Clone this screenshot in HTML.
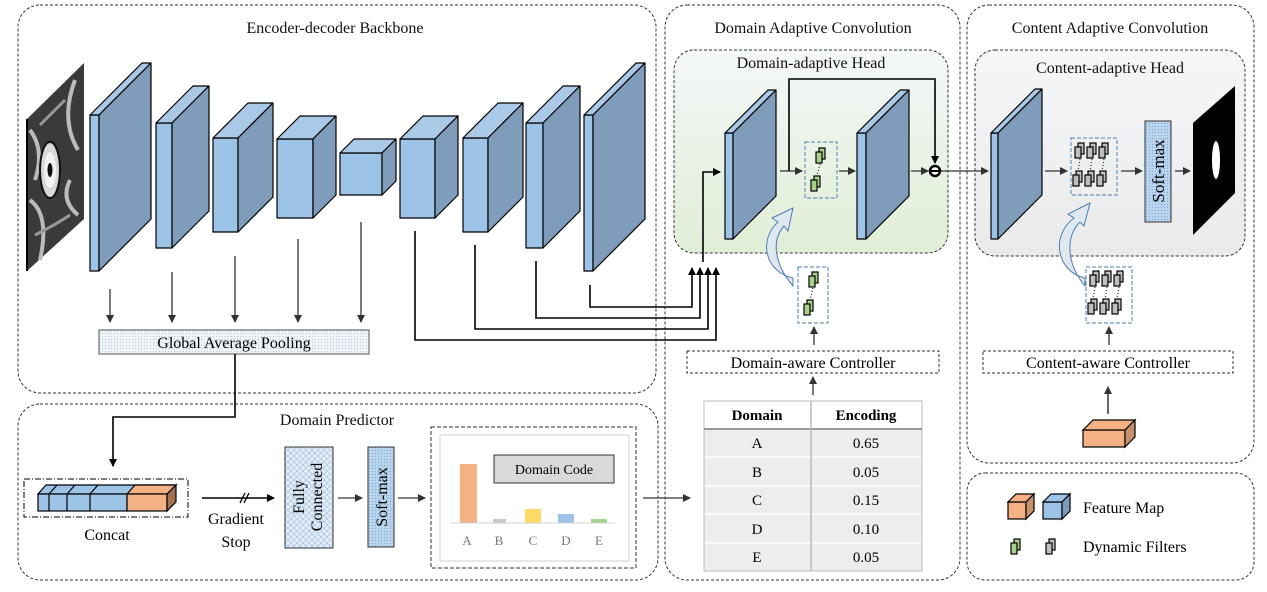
<!DOCTYPE html>
<html><head><meta charset="utf-8"><style>
html,body{margin:0;padding:0;background:#fff;}
svg{display:block;}
svg text{font-family:"Liberation Serif","Times New Roman","DejaVu Serif",serif;}
</style></head><body>
<svg width="1267" height="592" viewBox="0 0 1267 592" xmlns="http://www.w3.org/2000/svg" font-family="'Liberation Serif', 'Times New Roman', serif">
<defs>
<linearGradient id="gG" x1="0" y1="0" x2="0" y2="1"><stop offset="0" stop-color="#f4f7f8"/><stop offset="1" stop-color="#e0eed6"/></linearGradient>
<linearGradient id="gC" x1="0" y1="0" x2="0" y2="1"><stop offset="0" stop-color="#f5f6f8"/><stop offset="1" stop-color="#eaeaea"/></linearGradient>
<pattern id="dots" width="3" height="3" patternUnits="userSpaceOnUse"><rect width="3" height="3" fill="#eef4f8"/><rect width="1" height="1" fill="#b8c8d6"/></pattern>
<pattern id="hatch" width="6" height="6" patternUnits="userSpaceOnUse"><rect width="6" height="6" fill="#e3eef8"/><path d="M0,0L6,6M6,0L0,6" stroke="#a8c4de" stroke-width="0.7"/></pattern>
<pattern id="sdots" width="3" height="3" patternUnits="userSpaceOnUse"><rect width="3" height="3" fill="#b7d3ee"/><rect width="1" height="1" fill="#7fa6cc"/></pattern>
<marker id="ar" markerWidth="8" markerHeight="8" refX="7" refY="4" orient="auto" markerUnits="userSpaceOnUse"><path d="M0,0L8,4L0,8Z" fill="#333"/></marker>
<marker id="ak" markerWidth="8" markerHeight="8" refX="7" refY="4" orient="auto" markerUnits="userSpaceOnUse"><path d="M0,0L8,4L0,8Z" fill="#000"/></marker>
<g id="fg"><rect x="3" y="0" width="6" height="11" fill="#a9d18e" stroke="#000" stroke-width="1.2"/><rect x="0" y="4" width="6" height="11" fill="#a9d18e" stroke="#000" stroke-width="1.2"/></g>
<g id="fy"><rect x="3" y="0" width="6" height="11" fill="#bfbfbf" stroke="#000" stroke-width="1.2"/><rect x="0" y="4" width="6" height="11" fill="#bfbfbf" stroke="#000" stroke-width="1.2"/></g>
</defs>

<!-- panels -->
<g fill="none" stroke="#333" stroke-width="1" stroke-dasharray="3,2">
<rect x="18" y="5" width="638" height="388" rx="22"/>
<rect x="18" y="404" width="640" height="176" rx="22"/>
<rect x="665" y="5" width="295" height="575" rx="22"/>
<rect x="967" y="5" width="287" height="458" rx="22"/>
<rect x="967" y="473" width="287" height="107" rx="18"/>
</g>
<rect x="674" y="50" width="274" height="203" rx="20" fill="url(#gG)" stroke="#333" stroke-dasharray="3,2"/>
<rect x="975" y="50" width="270" height="206" rx="20" fill="url(#gC)" stroke="#333" stroke-dasharray="3,2"/>

<g font-size="16" text-anchor="middle" fill="#111">
<text x="335" y="33">Encoder-decoder Backbone</text>
<text x="813" y="33">Domain Adaptive Convolution</text>
<text x="1110" y="33">Content Adaptive Convolution</text>
<text x="811" y="68">Domain-adaptive Head</text>
<text x="1110" y="73">Content-adaptive Head</text>
<text x="337" y="425">Domain Predictor</text>
</g>

<!-- input image -->
<polygon points="27,119 84,63 84,219 27,271" fill="#3a3a3a"/>
<path d="M30,130 Q45,150 35,180 M75,80 Q60,120 78,150 M30,200 Q50,215 40,260 M70,180 Q60,200 78,215" stroke="#bbb" stroke-width="4" fill="none"/>
<path d="M40,125 Q55,110 65,100 M35,235 Q55,225 70,215" stroke="#999" stroke-width="3" fill="none"/>
<ellipse cx="50" cy="170" rx="10" ry="28" fill="#d8d8d8" stroke="#111" stroke-width="2"/>
<ellipse cx="50" cy="170" rx="6" ry="18" fill="#f2f2f2"/>
<ellipse cx="50" cy="170" rx="2.5" ry="7" fill="#111"/>
<line x1="27" y1="119" x2="27" y2="271" stroke="#000" stroke-width="2"/>

<!-- blocks -->
<g stroke="#000" stroke-width="1.2" stroke-linejoin="round">
<g><rect x="90" y="115" width="9" height="156" fill="#9dc3e6"/><polygon points="90,115 142,63 151,63 99,115" fill="#a9c9e6"/><polygon points="99,115 151,63 151,219 99,271" fill="#7f9dba"/></g>
<g><rect x="156" y="123" width="16" height="125" fill="#9dc3e6"/><polygon points="156,123 193,86 209,86 172,123" fill="#a9c9e6"/><polygon points="172,123 209,86 209,211 172,248" fill="#7f9dba"/></g>
<g><rect x="213" y="138" width="25" height="94" fill="#9dc3e6"/><polygon points="213,138 248,103 273,103 238,138" fill="#a9c9e6"/><polygon points="238,138 273,103 273,197 238,232" fill="#7f9dba"/></g>
<g><rect x="277" y="139" width="36" height="79" fill="#9dc3e6"/><polygon points="277,139 300,116 336,116 313,139" fill="#a9c9e6"/><polygon points="313,139 336,116 336,195 313,218" fill="#7f9dba"/></g>
<g><rect x="340" y="153" width="42" height="42" fill="#9dc3e6"/><polygon points="340,153 354,139 396,139 382,153" fill="#a9c9e6"/><polygon points="382,153 396,139 396,181 382,195" fill="#7f9dba"/></g>
<g><rect x="400" y="139" width="35" height="79" fill="#9dc3e6"/><polygon points="400,139 423,116 458,116 435,139" fill="#a9c9e6"/><polygon points="435,139 458,116 458,195 435,218" fill="#7f9dba"/></g>
<g><rect x="463" y="138" width="25" height="94" fill="#9dc3e6"/><polygon points="463,138 498,103 523,103 488,138" fill="#a9c9e6"/><polygon points="488,138 523,103 523,197 488,232" fill="#7f9dba"/></g>
<g><rect x="526" y="123" width="17" height="125" fill="#9dc3e6"/><polygon points="526,123 563,86 580,86 543,123" fill="#a9c9e6"/><polygon points="543,123 580,86 580,211 543,248" fill="#7f9dba"/></g>
<g><rect x="584" y="115" width="9" height="156" fill="#9dc3e6"/><polygon points="584,115 636,63 645,63 593,115" fill="#a9c9e6"/><polygon points="593,115 645,63 645,219 593,271" fill="#7f9dba"/></g>
<g><rect x="725" y="133" width="8" height="106" fill="#9dc3e6"/><polygon points="725,133 768,90 776,90 733,133" fill="#a9c9e6"/><polygon points="733,133 776,90 776,196 733,239" fill="#7f9dba"/></g>
<g><rect x="857" y="133" width="9" height="106" fill="#9dc3e6"/><polygon points="857,133 900,90 909,90 866,133" fill="#a9c9e6"/><polygon points="866,133 909,90 909,196 866,239" fill="#7f9dba"/></g>
<g><rect x="991" y="133" width="7" height="106" fill="#9dc3e6"/><polygon points="991,133 1035,89 1042,89 998,133" fill="#a9c9e6"/><polygon points="998,133 1042,89 1042,195 998,239" fill="#7f9dba"/></g>
</g>

<!-- GAP arrows -->
<g stroke="#333" stroke-width="1.3" marker-end="url(#ar)">
<line x1="110" y1="289" x2="110" y2="322"/>
<line x1="172" y1="272" x2="172" y2="322"/>
<line x1="235" y1="256" x2="235" y2="322"/>
<line x1="298" y1="239" x2="298" y2="322"/>
<line x1="361" y1="222" x2="361" y2="322"/>
</g>
<rect x="99" y="330" width="270" height="24" fill="url(#dots)" stroke="#555"/>
<text x="234" y="348" font-size="16" text-anchor="middle">Global Average Pooling</text>

<!-- skip connections -->
<g stroke="#000" stroke-width="1.6" fill="none" marker-end="url(#ak)">
<polyline points="590,285 590,307 692,307 692,268"/>
<polyline points="536,261 536,318 700,318 700,268"/>
<polyline points="475,245 475,329 708,329 708,268"/>
<polyline points="415,231 415,340 716,340 716,268"/>
<polyline points="703,262 703,172 720,172"/>
</g>

<!-- domain head internals -->
<g stroke="#333" stroke-width="1.3" fill="none" marker-end="url(#ar)">
<line x1="780" y1="171" x2="802" y2="171"/>
<line x1="839" y1="171" x2="855" y2="171"/>
<line x1="911" y1="171" x2="928" y2="171"/>
<line x1="940" y1="171" x2="988" y2="171"/>
<line x1="1045" y1="171" x2="1067" y2="171"/>
<line x1="1121" y1="171" x2="1142" y2="171"/>
<line x1="1175" y1="171" x2="1190" y2="171"/>
</g>
<polyline points="789,171 789,79 935,79 935,163" stroke="#000" stroke-width="1.6" fill="none" marker-end="url(#ak)"/>
<circle cx="935" cy="171" r="5" fill="#fff" stroke="#000" stroke-width="2.5"/>
<line x1="931" y1="171" x2="939" y2="171" stroke="#000" stroke-width="2"/>

<rect x="805" y="142" width="32" height="56" fill="none" stroke="#4f7eb0" stroke-dasharray="4,2"/>
<use href="#fg" x="816" y="148"/><use href="#fg" x="811" y="176"/>
<line x1="820" y1="164" x2="817" y2="176" stroke="#000" stroke-dasharray="1,2"/>

<rect x="798" y="267" width="30" height="56" fill="none" stroke="#4f7eb0" stroke-dasharray="4,2"/>
<use href="#fg" x="809" y="272"/><use href="#fg" x="804" y="300"/>
<line x1="813" y1="288" x2="810" y2="300" stroke="#000" stroke-dasharray="1,2"/>

<path d="M793,278 C765,272 758,240 778,222 L772,218 L793,208 L788,231 L784,226 C770,242 776,266 793,286 Z" fill="#dfe7ef" stroke="#4f7eb0" stroke-width="1"/>
<path d="M1085,278 C1057,272 1050,236 1074,218 L1068,214 L1090,203 L1084,226 L1080,222 C1064,238 1068,266 1085,286 Z" fill="#dfe7ef" stroke="#4f7eb0" stroke-width="1"/>

<line x1="814" y1="345" x2="814" y2="327" stroke="#333" stroke-width="1.3" marker-end="url(#ar)"/>
<rect x="687" y="351" width="252" height="22" fill="#fff" stroke="#333" stroke-dasharray="3,2"/>
<text x="813" y="368" font-size="16" text-anchor="middle">Domain-aware Controller</text>
<line x1="813" y1="395" x2="813" y2="377" stroke="#333" stroke-width="1.3" marker-end="url(#ar)"/>

<!-- content head internals -->
<rect x="1071" y="138" width="46" height="57" fill="none" stroke="#4f7eb0" stroke-dasharray="4,2"/>
<g><use href="#fy" x="1075" y="143"/><use href="#fy" x="1087" y="143"/><use href="#fy" x="1099" y="143"/>
<use href="#fy" x="1073" y="171"/><use href="#fy" x="1085" y="171"/><use href="#fy" x="1097" y="171"/></g>
<g stroke="#000" stroke-dasharray="1,2"><line x1="1080" y1="159" x2="1078" y2="171"/><line x1="1092" y1="159" x2="1090" y2="171"/><line x1="1104" y1="159" x2="1102" y2="171"/></g>

<rect x="1145" y="121" width="26" height="101" fill="url(#sdots)" stroke="#333"/>
<text transform="translate(1164,171) rotate(-90)" font-size="17" text-anchor="middle">Soft-max</text>
<polygon points="1193,123 1235,86 1235,193 1193,235" fill="#000"/>
<ellipse cx="1216" cy="160" rx="4" ry="19" fill="#fff"/>

<rect x="1086" y="267" width="46" height="56" fill="none" stroke="#4f7eb0" stroke-dasharray="4,2"/>
<g><use href="#fy" x="1090" y="271"/><use href="#fy" x="1102" y="271"/><use href="#fy" x="1114" y="271"/>
<use href="#fy" x="1088" y="299"/><use href="#fy" x="1100" y="299"/><use href="#fy" x="1112" y="299"/></g>
<g stroke="#000" stroke-dasharray="1,2"><line x1="1095" y1="287" x2="1093" y2="299"/><line x1="1107" y1="287" x2="1105" y2="299"/><line x1="1119" y1="287" x2="1117" y2="299"/></g>
<line x1="1109" y1="345" x2="1109" y2="327" stroke="#333" stroke-width="1.3" marker-end="url(#ar)"/>
<rect x="983" y="351" width="250" height="22" fill="#fff" stroke="#333" stroke-dasharray="3,2"/>
<text x="1108" y="368" font-size="16" text-anchor="middle">Content-aware Controller</text>
<line x1="1108" y1="414" x2="1108" y2="387" stroke="#333" stroke-width="1.5" marker-end="url(#ar)"/>
<g stroke="#000" stroke-width="1.2"><rect x="1083" y="430" width="42" height="17" fill="#f4b183"/><polygon points="1083,430 1093,420 1135,420 1125,430" fill="#f4b183"/><polygon points="1125,430 1135,420 1135,437 1125,447" fill="#c5906a"/></g>

<!-- table -->
<rect x="704" y="401" width="218" height="28" fill="#fff" stroke="#bbb"/>
<rect x="704" y="429" width="218" height="142" fill="#ededed" stroke="#bbb"/>
<line x1="704" y1="429" x2="922" y2="429" stroke="#999" stroke-width="2"/>
<g stroke="#fff" stroke-width="1.5"><line x1="705" y1="457" x2="921" y2="457"/><line x1="705" y1="486" x2="921" y2="486"/><line x1="705" y1="514" x2="921" y2="514"/><line x1="705" y1="543" x2="921" y2="543"/></g>
<line x1="811" y1="401" x2="811" y2="571" stroke="#bbb" stroke-width="1.5"/>
<g font-size="15" text-anchor="middle">
<text x="757" y="420" font-weight="bold">Domain</text><text x="866" y="420" font-weight="bold">Encoding</text>
<text x="757" y="448">A</text><text x="866" y="448">0.65</text>
<text x="757" y="477">B</text><text x="866" y="477">0.05</text>
<text x="757" y="505">C</text><text x="866" y="505">0.15</text>
<text x="757" y="534">D</text><text x="866" y="534">0.10</text>
<text x="757" y="562">E</text><text x="866" y="562">0.05</text>
</g>

<!-- legend -->
<g stroke="#000" stroke-width="1.2">
<rect x="1008" y="502" width="18" height="17" fill="#f4b183"/><polygon points="1008,502 1016,494 1034,494 1026,502" fill="#f4b183"/><polygon points="1026,502 1034,494 1034,511 1026,519" fill="#c5906a"/>
<rect x="1043" y="502" width="19" height="17" fill="#9dc3e6"/><polygon points="1043,502 1051,494 1070,494 1062,502" fill="#9dc3e6"/><polygon points="1062,502 1070,494 1070,511 1062,519" fill="#7f9dba"/>
</g>
<use href="#fg" x="1011" y="539"/><use href="#fy" x="1046" y="539"/>
<text x="1083" y="513" font-size="16">Feature Map</text>
<text x="1083" y="552" font-size="16">Dynamic Filters</text>

<!-- domain predictor -->
<polyline points="235,354 235,417 113,417 113,466" stroke="#000" stroke-width="1.6" fill="none" marker-end="url(#ak)"/>
<rect x="24" y="479" width="164" height="38" fill="none" stroke="#000" stroke-dasharray="6,2,1,2"/>
<g stroke="#000" stroke-width="1.2">
<polygon points="38,494 46,485 176,485 167,494" fill="#9dc3e6"/>
<polygon points="127,494 135,485 176,485 167,494" fill="#f4b183"/>
<rect x="38" y="494" width="89" height="17" fill="#9dc3e6"/>
<rect x="127" y="494" width="40" height="17" fill="#f4b183"/>
<polygon points="167,494 176,485 176,502 167,511" fill="#a07050"/>
<line x1="49" y1="494" x2="49" y2="511"/><line x1="67" y1="494" x2="67" y2="511"/><line x1="90" y1="494" x2="90" y2="511"/>
<line x1="49" y1="494" x2="57" y2="485"/><line x1="67" y1="494" x2="75" y2="485"/><line x1="90" y1="494" x2="98" y2="485"/>
</g>
<text x="107" y="540" font-size="16" text-anchor="middle">Concat</text>
<line x1="202" y1="498" x2="274" y2="498" stroke="#000" stroke-width="1.6" marker-end="url(#ak)"/>
<path d="M240,503 L245,493 M244,503 L249,493" stroke="#000" stroke-width="1.3"/>
<text x="236" y="524" font-size="16" text-anchor="middle">Gradient</text>
<text x="236" y="547" font-size="16" text-anchor="middle">Stop</text>
<rect x="285" y="447" width="48" height="101" fill="url(#hatch)" stroke="#333"/>
<text transform="translate(304,497) rotate(-90)" font-size="16" text-anchor="middle">Fully</text>
<text transform="translate(322,497) rotate(-90)" font-size="16" text-anchor="middle">Connected</text>
<line x1="338" y1="498" x2="362" y2="498" stroke="#333" stroke-width="1.3" marker-end="url(#ar)"/>
<rect x="368" y="447" width="26" height="100" fill="url(#sdots)" stroke="#333"/>
<text transform="translate(387,497) rotate(-90)" font-size="16" text-anchor="middle">Soft-max</text>
<line x1="398" y1="498" x2="425" y2="498" stroke="#333" stroke-width="1.3" marker-end="url(#ar)"/>
<rect x="431" y="427" width="205" height="141" fill="#fff" stroke="#333" stroke-dasharray="4,2"/>
<rect x="440" y="435" width="189" height="126" fill="#fff" stroke="#d0d0d0"/>
<rect x="494" y="455" width="120" height="28" fill="#d9d9d9" stroke="#333"/>
<text x="554" y="474" font-size="14" text-anchor="middle">Domain Code</text>
<rect x="460" y="464" width="17" height="59" fill="#f4b183"/>
<rect x="493" y="519" width="13" height="4" fill="#c8c8c8"/>
<rect x="525" y="509" width="16" height="14" fill="#ffd966"/>
<rect x="558" y="514" width="16" height="9" fill="#9dc3e6"/>
<rect x="591" y="519" width="16" height="4" fill="#a9d18e"/>
<line x1="451" y1="523" x2="615" y2="523" stroke="#d0d0d0"/>
<g font-size="13" fill="#777" text-anchor="middle"><text x="467" y="545">A</text><text x="499" y="545">B</text><text x="533" y="545">C</text><text x="566" y="545">D</text><text x="599" y="545">E</text></g>
<line x1="643" y1="498" x2="690" y2="498" stroke="#333" stroke-width="1.3" marker-end="url(#ar)"/>
</svg>
</body></html>
